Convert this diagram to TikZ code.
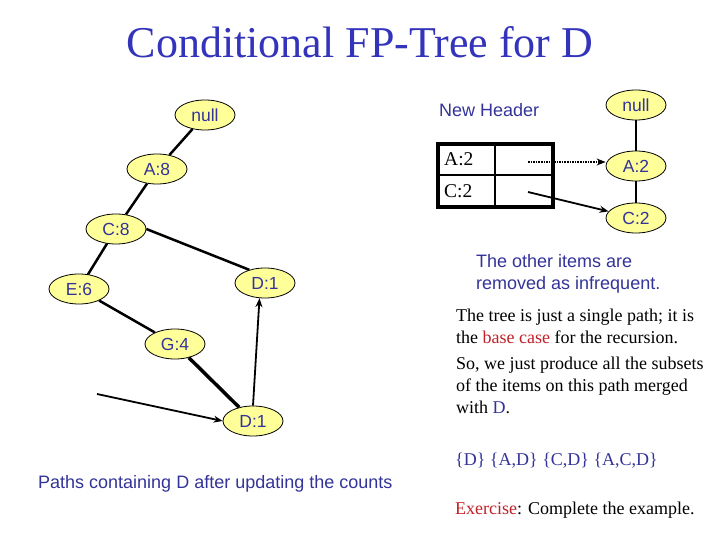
\documentclass[tikz,border=0pt]{standalone}
\usepackage{fontspec}
\setmainfont{Liberation Serif}
\newfontfamily\arial{Liberation Sans}
\usetikzlibrary{shapes.geometric,arrows.meta}
\definecolor{nodeblue}{RGB}{51,51,153}
\definecolor{titleblue}{RGB}{51,51,187}
\definecolor{nodeyellow}{RGB}{255,255,153}
\definecolor{darkred}{RGB}{192,32,40}
\begin{document}
\begin{tikzpicture}[x=1pt,y=-1pt,
  tnode/.style={ellipse, draw=black, line width=0.8pt, fill=nodeyellow,
    minimum width=60pt, minimum height=30pt, inner sep=0pt,
    font=\arial\fontsize{17.5}{20}\selectfont, text=nodeblue},
  treeedge/.style={line width=2.5pt},
  thickedge/.style={line width=3.5pt},
  thinarrow/.style={line width=1.8pt, -{Stealth[length=9pt,width=7pt]}},
  sanslabel/.style={anchor=base west, inner sep=0pt, text=nodeblue,
    font=\arial\fontsize{18}{21}\selectfont},
  seriflabel/.style={anchor=base west, inner sep=0pt, text=black,
    font=\fontsize{18}{22}\selectfont},
  celltext/.style={anchor=base west, inner sep=0pt, text=black,
    font=\fontsize{19.5}{22}\selectfont}
]
\path[use as bounding box] (0,0) rectangle (720,540);

% title
\node[anchor=base, inner sep=0pt, text=titleblue, font=\fontsize{44}{50}\selectfont]
  (title) at (360,58) {Conditional FP-Tree for D};

% left tree
\node[tnode] (n0)  at (205,115) {null};
\node[tnode] (a8)  at (157,169) {A:8};
\node[tnode] (c8)  at (116,229) {C:8};
\node[tnode] (e6)  at (79,289)  {E:6};
\node[tnode] (d1a) at (265,283) {D:1};
\node[tnode] (g4)  at (175,344) {G:4};
\node[tnode] (d1b) at (253,421) {D:1};

\draw[treeedge] (n0) -- (a8);
\draw[treeedge] (a8) -- (c8);
\draw[treeedge] (c8) -- (e6);
\draw[treeedge] (c8.east) -- (d1a.140);
\draw[treeedge] (e6) -- (g4);
\draw[thickedge] (g4) -- (d1b);
\draw[thinarrow] (d1b.north) -- (d1a.250);
\coordinate (src) at (97,394);
\draw[thinarrow] (src) -- (d1b.west);

\node[sanslabel] (paths) at (38,488) {Paths containing D after updating the counts};

% header table
\node[sanslabel] (hdr) at (439,117) {New Header};
\draw[line width=2.5pt] (438,175) -- (553,175);
\draw[line width=2.5pt] (495,144) -- (495,207);
\draw[line width=3.2pt] (438,144) rectangle (553,207);
\node[celltext] (ha) at (444,166) {A:2};
\node[celltext] (hc) at (444,197) {C:2};
\coordinate (pa) at (528,162);
\coordinate (pc) at (528,192);

% right tree
\node[tnode] (rn) at (636,105) {null};
\node[tnode] (ra) at (636,166) {A:2};
\node[tnode] (rc) at (636,218) {C:2};
\draw[treeedge] (rn) -- (ra);
\draw[treeedge] (ra) -- (rc);

\draw[line width=1.6pt, densely dotted, -{Stealth[length=9pt,width=7pt]}] (pa) -- (pa -| ra.west);
\draw[thinarrow] (pc) -- (rc);

% texts on the right
\node[sanslabel] (o1) at (476,267) {The other items are};
\node[sanslabel] (o2) at (476,289) {removed as infrequent.};

\node[seriflabel] (t1) at (456,321) {The tree is just a single path; it is};
\node[seriflabel] (t2) at (456,343) {the \textcolor{darkred}{base case} for the recursion.};
\node[seriflabel] (t3) at (456,369) {So, we just produce all the subsets};
\node[seriflabel] (t4) at (456,391) {of the items on this path merged};
\node[seriflabel] (t5) at (456,413) {with \textcolor{nodeblue}{D}.};

\node[seriflabel, text=nodeblue] (sets) at (455,465) {\{D\} \{A,D\} \{C,D\} \{A,C,D\}};
\node[seriflabel] (ex) at (455,514) {\textcolor{darkred}{Exercise}: Complete the example.};
\end{tikzpicture}
\end{document}
